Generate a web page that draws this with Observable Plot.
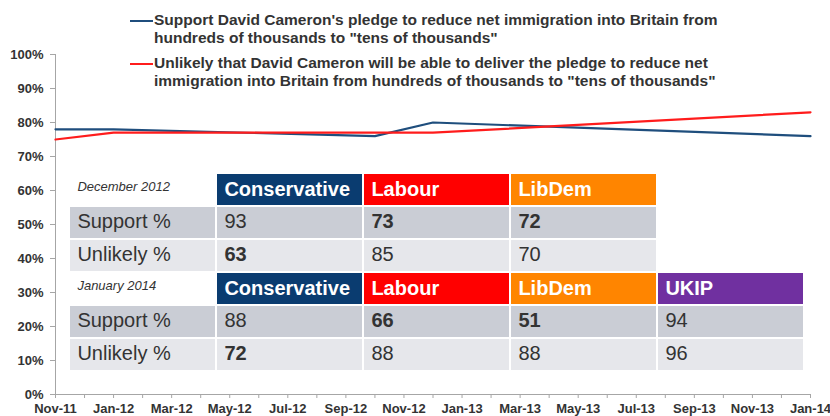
<!DOCTYPE html>
<html>
<head>
<meta charset="utf-8">
<script src="https://cdn.jsdelivr.net/npm/d3@7"></script>
<script src="https://cdn.jsdelivr.net/npm/@observablehq/plot@0.6"></script>
<style>
  html, body { margin: 0; padding: 0; background: #fff; overflow: hidden; }
  #wrap { position: relative; width: 830px; height: 416px; font-family: "Liberation Sans", Arial, sans-serif; }
  #wrap svg { position: absolute; left: 0; top: 0; }
  .legend { position: absolute; left: 130px; font-weight: bold; font-size: 15.5px; line-height: 17.7px; color: #333; }
  .legend .item { position: absolute; left: 0; white-space: nowrap; }
  .legend .sw { position: absolute; left: 0; width: 23px; height: 2px; }
  .legend .tx { position: absolute; left: 24px; }
</style>
</head>
<body>
<div id="wrap"></div>
<script>
// ---- Line chart data ----
const tickLabels = ["Nov-11","Jan-12","Mar-12","May-12","Jul-12","Sep-12","Nov-12","Jan-13","Mar-13","May-13","Jul-13","Sep-13","Nov-13","Jan-14"];
const surveyMonths = ["2011-11","2012-01","2012-10","2012-12","2014-01"];
const supportPledge = [78, 78, 76, 80, 76];
const unlikelyDeliver = [75, 77, 77, 77, 83];
const seriesNames = [
  ["Support David Cameron's pledge to reduce net immigration into Britain from", "hundreds of thousands to \"tens of thousands\""],
  ["Unlikely that David Cameron will be able to deliver the pledge to reduce net", "immigration into Britain from hundreds of thousands to \"tens of thousands\""]
];
const seriesColors = ["#1f4e7d", "#ff1c1c"];

// ---- Table data ----
const surveys = ["December 2012", "January 2014"];
const parties = ["Conservative", "Labour", "LibDem", "UKIP"];
const partyColors = ["#0a3c70", "#ff0000", "#ff8500", "#7030a0"];
const rowLabels = ["Support %", "Unlikely %"];
const support2012 = [93, 73, 72];
const unlikely2012 = [63, 85, 70];
const support2014 = [88, 66, 51, 94];
const unlikely2014 = [72, 88, 88, 96];
const supportBold2012 = [false, true, true];
const unlikelyBold2012 = [true, false, false];
const supportBold2014 = [false, true, true, false];
const unlikelyBold2014 = [true, false, false, false];
const rowColors = ["#cacdd5", "#e6e7eb"];

const monthIndex = s => { const [y, m] = s.split("-").map(Number); return (y - 2011) * 12 + (m - 11); };

const lineData = [];
surveyMonths.forEach((s, i) => {
  lineData.push({x: monthIndex(s), y: supportPledge[i], series: 0});
  lineData.push({x: monthIndex(s), y: unlikelyDeliver[i], series: 1});
});

const font = "'Liberation Sans', Arial, sans-serif";
const axisColor = "#a6a6a6";

const chart = Plot.plot({
  width: 830, height: 416,
  marginLeft: 55, marginRight: 20, marginTop: 54, marginBottom: 22,
  x: {domain: [0, monthIndex("2014-01")]},
  y: {domain: [0, 100]},
  style: {fontFamily: font, background: "transparent", overflow: "visible"},
  marks: [
    Plot.axisY({ticks: d3.range(0, 101, 10), tickSize: 5, tickPadding: 7, tickFormat: d => d + "%",
      stroke: axisColor, fill: "#333", fontWeight: "bold", fontSize: 13, label: null}),
    Plot.axisX({ticks: d3.range(0, monthIndex("2014-01") + 1), tickSize: 4, tickPadding: 5,
      tickFormat: d => d % 2 === 0 ? tickLabels[d / 2] : "",
      stroke: axisColor, fill: "#333", fontWeight: "bold", fontSize: 13, label: null}),
    Plot.ruleX([0], {stroke: axisColor}),
    Plot.ruleY([0], {stroke: axisColor}),
    Plot.line(lineData.filter(d => d.series === 0), {x: "x", y: "y", stroke: seriesColors[0], strokeWidth: 2.2}),
    Plot.line(lineData.filter(d => d.series === 1), {x: "x", y: "y", stroke: seriesColors[1], strokeWidth: 2.2})
  ]
});

// ---- Table as Plot cells ----
const columns = ["label", ...parties];
const rows = ["h0", "s0", "u0", "h1", "s1", "u1"];
const cells = [];
const surveyData = [
  {support: support2012, unlikely: unlikely2012, sb: supportBold2012, ub: unlikelyBold2012},
  {support: support2014, unlikely: unlikely2014, sb: supportBold2014, ub: unlikelyBold2014}
];
surveyData.forEach((sd, i) => {
  cells.push({col: "label", row: "h" + i, text: surveys[i], kind: "date"});
  cells.push({col: "label", row: "s" + i, text: rowLabels[0], kind: "val", fill: rowColors[0]});
  cells.push({col: "label", row: "u" + i, text: rowLabels[1], kind: "val", fill: rowColors[1]});
  sd.support.forEach((v, j) => {
    cells.push({col: parties[j], row: "h" + i, text: parties[j], kind: "head", fill: partyColors[j]});
    cells.push({col: parties[j], row: "s" + i, text: String(v), kind: sd.sb[j] ? "bold" : "val", fill: rowColors[0]});
    cells.push({col: parties[j], row: "u" + i, text: String(sd.unlikely[j]), kind: sd.ub[j] ? "bold" : "val", fill: rowColors[1]});
  });
});

const tLeft = 68, tRight = 804, tTop = 173, tBottom = 371;
const colW = (tRight - tLeft) / columns.length;
const pad = 8;

const table = Plot.plot({
  width: 830, height: 416,
  marginLeft: tLeft, marginRight: 830 - tRight, marginTop: tTop, marginBottom: 416 - tBottom,
  x: {type: "band", domain: columns, padding: 0, axis: null},
  y: {type: "band", domain: rows, padding: 0, axis: null},
  color: {type: "identity"},
  style: {fontFamily: font, background: "transparent", overflow: "visible"},
  marks: [
    Plot.cell(cells.filter(d => d.fill), {x: "col", y: "row", fill: "fill", inset: 1}),
    Plot.text(cells.filter(d => d.kind === "head"), {x: "col", y: "row", text: "text", textAnchor: "start",
      dx: -colW / 2 + pad, dy: -0.5, fill: "white", fontWeight: "bold", fontSize: 20}),
    Plot.text(cells.filter(d => d.kind === "val"), {x: "col", y: "row", text: "text", textAnchor: "start",
      dx: -colW / 2 + pad, dy: -1.5, fill: "#333", fontSize: 20}),
    Plot.text(cells.filter(d => d.kind === "bold"), {x: "col", y: "row", text: "text", textAnchor: "start",
      dx: -colW / 2 + pad, dy: -1.5, fill: "#333", fontWeight: "bold", fontSize: 20}),
    Plot.text(cells.filter(d => d.kind === "date"), {x: "col", y: "row", text: "text", textAnchor: "start",
      dx: -colW / 2 + pad, dy: -3.5, fill: "#333", fontStyle: "italic", fontSize: 13})
  ]
});

const wrap = document.getElementById("wrap");
wrap.appendChild(chart);
wrap.appendChild(table);

// ---- Legend ----
const legend = document.createElement("div");
legend.className = "legend";
legend.style.top = "0px";
const itemTops = [11.3, 54.1];
seriesNames.forEach((lines, i) => {
  const item = document.createElement("div");
  item.className = "item";
  item.style.top = itemTops[i] + "px";
  const sw = document.createElement("div");
  sw.className = "sw";
  sw.style.background = seriesColors[i];
  sw.style.top = "8.5px";
  const tx = document.createElement("div");
  tx.className = "tx";
  tx.innerHTML = lines.map(l => l.replace(/&/g, "&amp;").replace(/</g, "&lt;")).join("<br>");
  item.appendChild(sw);
  item.appendChild(tx);
  legend.appendChild(item);
});
wrap.appendChild(legend);
</script>
</body>
</html>
